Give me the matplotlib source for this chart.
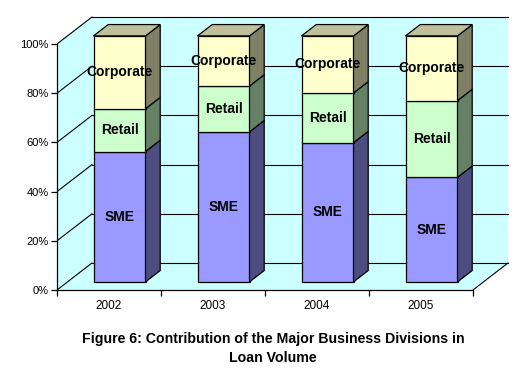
import matplotlib.pyplot as plt
import numpy as np
from matplotlib.patches import Polygon

plt.rcParams['font.family'] = ['Liberation Sans', 'DejaVu Sans']

years = ['2002', '2003', '2004', '2005']
divisions = ['SME', 'Retail', 'Corporate']
sme = [53.0, 61.0, 56.6, 42.5]
retail = [17.4, 18.6, 20.2, 31.2]
corporate = [29.6, 20.4, 23.2, 26.3]
yticks = [0, 20, 40, 60, 80, 100]
title = 'Figure 6: Contribution of the Major Business Divisions in\nLoan Volume'

front_cols = ['#9999FF', '#CCFFCC', '#FFFFCC']
wall_col = '#CCFFFF'


def shade(c, k):
    r, g, b = int(c[1:3], 16), int(c[3:5], 16), int(c[5:7], 16)
    return (r * k / 255, g * k / 255, b * k / 255)


# pixel geometry of the plot area
px_x = 104.0   # pixels per category
px_y = 2.46    # pixels per percent
fig = plt.figure(figsize=(5.26, 3.76), dpi=100)
ax = fig.add_axes([57 / 526, (376 - 290) / 376, (510 - 57) / 526, (290 - 14) / 376])
ax.set_xlim(-0.5, -0.5 + 453 / px_x)
ax.set_ylim(0, 276 / px_y)

# depth offsets (data units)
dxb, dyb = 35 / px_x, 27 / px_y          # back wall
f0, f1 = 0.30, 0.72                      # bar front/back depth fraction
xl, xr = -0.5, 3.5

# walls
ax.add_patch(Polygon([(xl, 0), (xl, 100), (xl + dxb, 100 + dyb), (xl + dxb, dyb)],
                     closed=True, fc=wall_col, ec='none', zorder=0))
ax.add_patch(Polygon([(xl + dxb, dyb), (xl + dxb, 100 + dyb), (xr + dxb, 100 + dyb), (xr + dxb, dyb)],
                     closed=True, fc=wall_col, ec='none', zorder=0))
ax.add_patch(Polygon([(xl, 0), (xr, 0), (xr + dxb, dyb), (xl + dxb, dyb)],
                     closed=True, fc=wall_col, ec='none', zorder=0))

for t in yticks:
    ax.plot([xl, xl + dxb], [t, t + dyb], color='black', lw=0.8, zorder=1)
    ax.plot([xl + dxb, xr + dxb], [t + dyb, t + dyb], color='black', lw=0.8, zorder=1)
ax.plot([xr, xr + dxb], [0, dyb], color='black', lw=0.8, zorder=1)

# bars
data = np.array([sme, retail, corporate])
x = np.arange(len(years))
bx = x + f0 * dxb
by = f0 * dyb
w = 0.5
ddx, ddy = (f1 - f0) * dxb, (f1 - f0) * dyb
bottom = np.zeros(len(years))
for k in range(len(divisions)):
    vals = data[k]
    ax.bar(bx, vals, width=w, bottom=bottom + by, color=front_cols[k],
           edgecolor='black', linewidth=0.9, zorder=3)
    for i in range(len(years)):
        x1 = bx[i] + w / 2
        y0 = bottom[i] + by
        y1 = y0 + vals[i]
        ax.add_patch(Polygon([(x1, y0), (x1 + ddx, y0 + ddy), (x1 + ddx, y1 + ddy), (x1, y1)],
                             closed=True, fc=shade(front_cols[k], 0.5), ec='black', lw=0.9, zorder=3))
        if k == len(divisions) - 1:
            x0 = bx[i] - w / 2
            ax.add_patch(Polygon([(x0, y1), (x1, y1), (x1 + ddx, y1 + ddy), (x0 + ddx, y1 + ddy)],
                                 closed=True, fc=shade(front_cols[k], 0.75), ec='black', lw=0.9, zorder=3))
        ax.text(bx[i], y0 + vals[i] / 2, divisions[k], ha='center', va='center',
                fontsize=10, fontweight='bold', color='black', zorder=5)
    bottom += vals

# axes
for s in ['top', 'right']:
    ax.spines[s].set_visible(False)
ax.spines['left'].set_bounds(0, 100)
ax.spines['bottom'].set_bounds(xl, xr)
ax.spines['left'].set_linewidth(0.9)
ax.spines['bottom'].set_linewidth(0.9)
ax.set_yticks(yticks)
ax.set_yticklabels([f'{t}%' for t in yticks], fontsize=8)
ax.tick_params(axis='y', length=4, width=0.9, pad=2)
ax.set_xticks(x)
ax.set_xticklabels(years, fontsize=8.5)
ax.set_xticks(np.arange(-0.5, 4, 1), minor=True)
ax.tick_params(axis='x', which='major', length=0, pad=7)
ax.tick_params(axis='x', which='minor', length=4, width=0.9)
ax.patch.set_visible(False)

fig.text(273 / 526, 1 - 348.5 / 376, title, ha='center', va='center',
         fontsize=10.2, fontweight='bold', linespacing=1.4)

fig.savefig('out.png', dpi=100)
